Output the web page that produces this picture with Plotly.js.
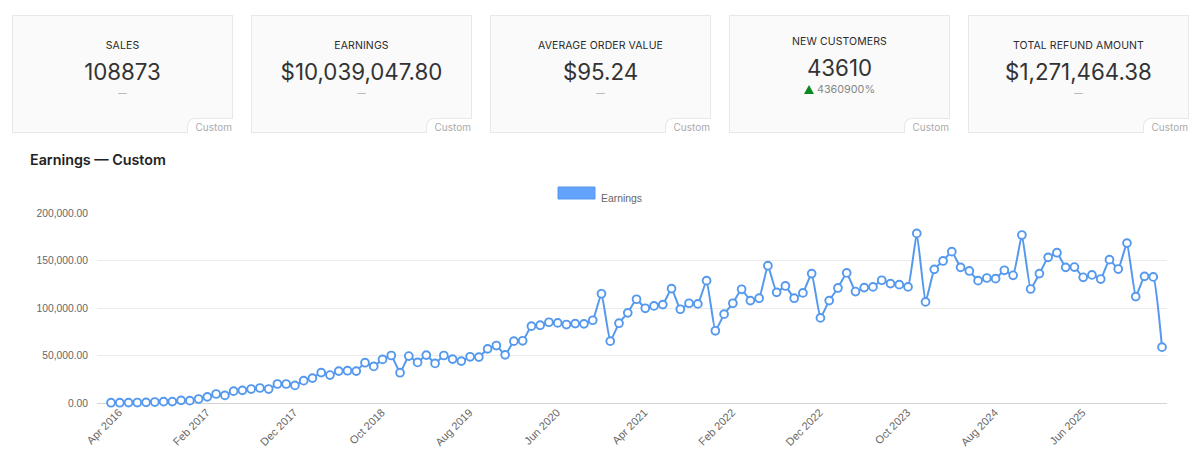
<!DOCTYPE html>
<html><head><meta charset="utf-8">
<script src="https://cdn.plot.ly/plotly-3.0.1.min.js"></script>
<style>
html,body{margin:0;padding:0;background:#fff;width:1200px;height:463px;overflow:hidden;font-family:Inter,"Liberation Sans",sans-serif}
#chart{position:absolute;left:0;top:0;width:1200px;height:463px}
.card{position:absolute;top:15px;height:118px;box-sizing:border-box;background:#fafafa;border:1px solid #e8e8e8;text-align:center;color:#2b2b2b}
.lab{position:absolute;left:0;right:0;top:23px;font-size:10.5px;line-height:14px;letter-spacing:.1px}
.val{position:absolute;left:0;right:0;top:41px;font-size:22.3px;line-height:30px;font-weight:400;color:#333}
.dash{position:absolute;left:0;right:0;top:69px;font-size:8.5px;line-height:16px;color:#aaa}
.card.nc .lab{top:19px}.card.nc .val{top:37px}
.card.nc .dash{top:66px;font-size:10.8px;color:#888}
.tri{display:inline-block;width:0;height:0;border-left:5px solid transparent;border-right:5px solid transparent;border-bottom:9px solid #0a8a1e;margin-right:3px;vertical-align:-0.5px}
.tag{position:absolute;right:-1px;bottom:-1px;width:46px;height:15px;background:#fff;border-top:1px solid #e8e8e8;border-left:1px solid #e8e8e8;border-top-left-radius:8px;box-sizing:border-box;font-size:10px;line-height:16px;color:#aaa;text-align:right;padding-right:1px}
#ttl{position:absolute;left:30px;top:151px;font-size:14.3px;line-height:18px;font-weight:600;color:#222}
</style></head><body>
<div id="chart"></div>
<div id="cards"></div>
<div id="ttl">Earnings — Custom</div>
<script>
var cardLabels=["SALES","EARNINGS","AVERAGE ORDER VALUE","NEW CUSTOMERS","TOTAL REFUND AMOUNT"];
var cardValues=["108873","$10,039,047.80","$95.24","43610","$1,271,464.38"];
var cardDeltas=["—","—","—","4360900%","—"];
var cardLefts=[12,251,490,729,968];
var cardWidths=[221,221,221,221,221];
var cardTag="Custom";

var months=["Apr 2016","May 2016","Jun 2016","Jul 2016","Aug 2016","Sep 2016","Oct 2016","Nov 2016","Dec 2016","Jan 2017","Feb 2017","Mar 2017","Apr 2017","May 2017","Jun 2017","Jul 2017","Aug 2017","Sep 2017","Oct 2017","Nov 2017","Dec 2017","Jan 2018","Feb 2018","Mar 2018","Apr 2018","May 2018","Jun 2018","Jul 2018","Aug 2018","Sep 2018","Oct 2018","Nov 2018","Dec 2018","Jan 2019","Feb 2019","Mar 2019","Apr 2019","May 2019","Jun 2019","Jul 2019","Aug 2019","Sep 2019","Oct 2019","Nov 2019","Dec 2019","Jan 2020","Feb 2020","Mar 2020","Apr 2020","May 2020","Jun 2020","Jul 2020","Aug 2020","Sep 2020","Oct 2020","Nov 2020","Dec 2020","Jan 2021","Feb 2021","Mar 2021","Apr 2021","May 2021","Jun 2021","Jul 2021","Aug 2021","Sep 2021","Oct 2021","Nov 2021","Dec 2021","Jan 2022","Feb 2022","Mar 2022","Apr 2022","May 2022","Jun 2022","Jul 2022","Aug 2022","Sep 2022","Oct 2022","Nov 2022","Dec 2022","Jan 2023","Feb 2023","Mar 2023","Apr 2023","May 2023","Jun 2023","Jul 2023","Aug 2023","Sep 2023","Oct 2023","Nov 2023","Dec 2023","Jan 2024","Feb 2024","Mar 2024","Apr 2024","May 2024","Jun 2024","Jul 2024","Aug 2024","Sep 2024","Oct 2024","Nov 2024","Dec 2024","Jan 2025","Feb 2025","Mar 2025","Apr 2025","May 2025","Jun 2025","Jul 2025","Aug 2025","Sep 2025","Oct 2025","Nov 2025","Dec 2025","Jan 2026","Feb 2026","Mar 2026","Apr 2026"];
var earnings=[300,300,400,500,700,1000,1400,1500,2800,2500,4200,6500,9500,8000,12500,13300,14700,15800,14700,20000,20000,18500,23500,26200,32000,29400,33600,34000,33600,42400,38500,45900,50000,31900,49400,42700,50400,41650,50000,46200,44100,48650,48300,57000,60500,50700,65100,65500,80900,81900,85000,84300,82600,83600,83300,87100,115000,65100,84000,94900,109200,99700,102200,103600,120400,98700,105000,104300,128800,76000,93500,105000,119700,107800,110300,144500,116500,123200,110300,115900,136200,89600,107800,121100,136900,117300,121500,122200,129200,125700,124600,122200,178500,106400,140700,149500,159300,142800,139000,128800,131600,130900,139700,134400,176800,120000,136200,153300,158200,142800,143100,132300,134800,130500,150900,141000,168300,112000,133300,132700,58800];
var xTickLabels=["Apr 2016","Feb 2017","Dec 2017","Oct 2018","Aug 2019","Jun 2020","Apr 2021","Feb 2022","Dec 2022","Oct 2023","Aug 2024","Jun 2025"];
var yTickVals=[0,50000,100000,150000,200000];
var yTickLabels=["0.00","50,000.00","100,000.00","150,000.00","200,000.00"];
var seriesName="Earnings";

var host=document.getElementById("cards");
cardLabels.forEach(function(l,i){
  var d=document.createElement("div");
  d.className="card"+(i===3?" nc":"");
  d.style.left=cardLefts[i]+"px";d.style.width=cardWidths[i]+"px";
  var delta=i===3?'<span class="tri"></span>'+cardDeltas[i]:cardDeltas[i];
  d.innerHTML='<div class="lab">'+l+'</div><div class="val">'+cardValues[i]+'</div><div class="dash">'+delta+'</div><div class="tag">'+cardTag+'</div>';
  host.appendChild(d);
});

Plotly.newPlot("chart",[{
  type:"scatter",mode:"lines+markers",name:seriesName,
  x:months,y:earnings,cliponaxis:false,
  line:{color:"#5599ee",width:2,shape:"spline",smoothing:0.35},
  marker:{size:7.8,color:"#ffffff",line:{color:"#5599ee",width:1.9}}
}],{
  width:1200,height:463,showlegend:false,
  paper_bgcolor:"rgba(0,0,0,0)",plot_bgcolor:"rgba(0,0,0,0)",
  margin:{l:97,r:33,t:213.3,b:59.7,pad:0},
  font:{family:'"Liberation Sans",Arial,sans-serif',size:11,color:"#666"},
  xaxis:{type:"category",categoryorder:"array",categoryarray:months,range:[-1.6,120.57],
    tickmode:"array",tickvals:xTickLabels,ticktext:xTickLabels,tickangle:-45,ticklabelshift:8,
    showgrid:false,zeroline:false,showline:false,ticks:"",tickfont:{size:11,color:"#666"}},
  yaxis:{range:[0,200000],tickmode:"array",tickvals:yTickVals,ticktext:yTickLabels,
    showgrid:true,gridcolor:"#ebebeb",gridwidth:1,zeroline:true,zerolinecolor:"#d4d4d4",zerolinewidth:1,
    showline:false,ticks:"",ticklabelstandoff:8,tickfont:{size:10.3,color:"#666"}},
  shapes:[{type:"rect",xref:"paper",yref:"paper",xsizemode:"pixel",ysizemode:"pixel",xanchor:0,yanchor:1,
    x0:461,x1:498,y0:14,y1:26,fillcolor:"rgba(91,157,255,0.95)",line:{color:"#5599ee",width:1}}],
  annotations:[{xref:"paper",yref:"paper",xanchor:"left",yanchor:"middle",x:(598.5-97)/1070,y:1+14.5/190,
    text:seriesName,showarrow:false,font:{size:10.4,color:"#666"}}]
},{staticPlot:true,displayModeBar:false});
</script>
</body></html>
